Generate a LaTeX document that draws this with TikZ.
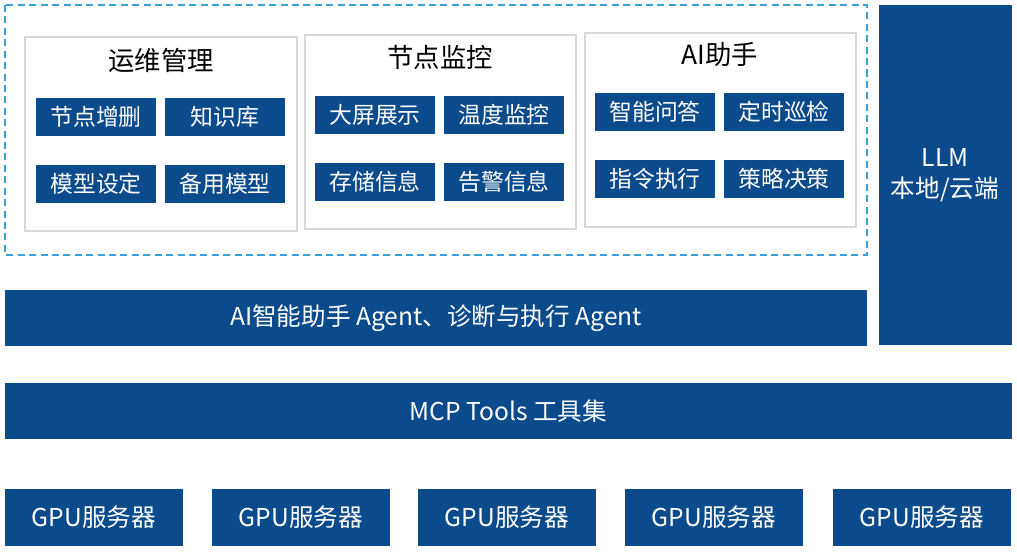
\documentclass[tikz,border=0pt]{standalone}
\usepackage{fontspec}
\setmainfont{Noto Sans CJK SC}
\usetikzlibrary{positioning}
\definecolor{navy}{HTML}{0B4A8B}
\definecolor{dashblue}{HTML}{3AA0D8}
\tikzset{
  btn/.style={fill=navy,draw=none,text=white,minimum width=2.4cm,minimum height=0.76cm,font=\fontsize{13}{15}\selectfont},
  panel/.style={draw=gray!30,line width=0.6pt},
  ttl/.style={font=\fontsize{15}{17}\selectfont}
}
\def\BOX#1#2#3#4#5#6{\fill[navy] (#2,#3) rectangle (#4,#5); \node[text=white,font=\fontsize{14}{16}\selectfont] (#1) at ({(#2+#4)/2},{(#3+#5)/2}) {#6};}
\begin{document}
\begin{tikzpicture}[x=0.02cm,y=-0.02cm]
\useasboundingbox (0,0) rectangle (1017,554);
\draw[dashblue,line width=0.8pt,dash pattern=on 4pt off 2.5pt] (5,5) rectangle (867,255);
% panels
\draw[panel] (25,37) rectangle (297,231);
\draw[panel] (305,35) rectangle (576,229);
\draw[panel] (585,33) rectangle (856,227);
\node[ttl] (t1) at (161,60) {运维管理};
\node[ttl] (t2) at (440,57) {节点监控};
\node[ttl] (t3) at (720,55) {AI助手};
\node[btn] (b11) at (96,117) {节点增删};
\node[btn] (b12) at (225,117) {知识库};
\node[btn] (b13) at (96,184) {模型设定};
\node[btn] (b14) at (225,184) {备用模型};
\node[btn] (b21) at (375,115) {大屏展示};
\node[btn] (b22) at (504,115) {温度监控};
\node[btn] (b23) at (375,182) {存储信息};
\node[btn] (b24) at (504,182) {告警信息};
\node[btn] (b31) at (655,112) {智能问答};
\node[btn] (b32) at (784,112) {定时巡检};
\node[btn] (b33) at (655,179) {指令执行};
\node[btn] (b34) at (784,179) {策略决策};
% bars
\fill[navy] (879,5) rectangle (1012,345);
\node[text=white,align=center,font=\fontsize{14}{18}\selectfont] (llm) at (945,175) {LLM\\本地/云端};
\BOX{agent}{5}{290}{867}{346}{AI智能助手 Agent、诊断与执行 Agent}
\BOX{mcp}{5}{383}{1012}{439}{MCP Tools 工具集}
\foreach \x/\n in {5/1,212/2,418/3,625/4,833/5}{
  \BOX{gpu\n}{\x}{489}{\x+178}{546}{GPU服务器}
}
\end{tikzpicture}
\end{document}
